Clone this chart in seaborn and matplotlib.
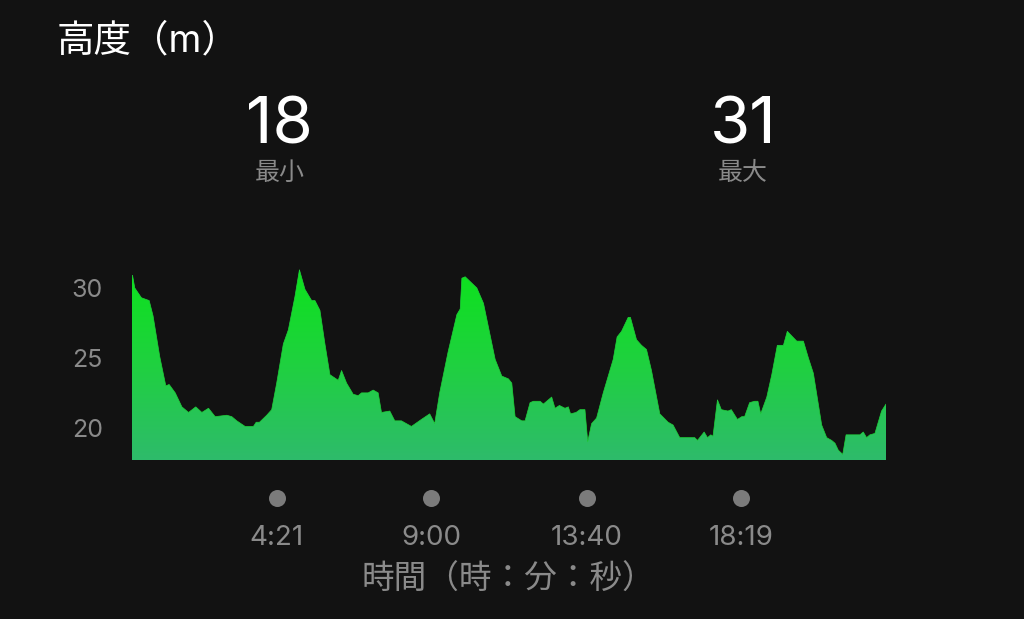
import numpy as np
import pandas as pd
import seaborn as sns
import matplotlib.pyplot as plt
import matplotlib.transforms as mtransforms
from matplotlib.colors import LinearSegmentedColormap
from matplotlib.patches import PathPatch

# elevation profile (time in seconds, height in m)
t_sec = [0, 1, 5, 17, 31, 38, 50, 61, 67, 78, 90, 102, 115, 126, 138, 150, 171, 180,
         189, 204, 219, 224, 230, 243, 252, 261, 273, 282, 294, 302, 312, 324, 330,
         339, 348, 357, 372, 378, 387, 399, 408, 414, 426, 435, 444, 450, 465, 474,
         486, 504, 522, 537, 546, 555, 570, 586, 592, 595, 601, 622, 634, 655, 667,
         679, 685, 691, 703, 709, 718, 724, 736, 742, 757, 763, 771, 781, 787, 791,
         801, 808, 817, 822, 829, 838, 850, 868, 875, 883, 895, 899, 910, 919, 928,
         937, 952, 967, 976, 988, 1015, 1020, 1032, 1038, 1044, 1048, 1056, 1063,
         1075, 1081, 1092, 1100, 1105, 1114, 1123, 1129, 1134, 1145, 1154, 1164,
         1175, 1182, 1199, 1211, 1220, 1229, 1244, 1253, 1262, 1268, 1274, 1282,
         1288, 1313, 1319, 1325, 1331, 1340, 1352, 1360]
height_m = [30.9, 30.9, 30.0, 29.3, 29.1, 28.0, 25.1, 23.0, 23.1, 22.5, 21.5, 21.1,
            21.5, 21.1, 21.4, 20.8, 20.9, 20.8, 20.5, 20.1, 20.1, 20.4, 20.4, 20.9,
            21.3, 23.2, 26.0, 27.0, 29.4, 31.3, 29.9, 29.1, 29.1, 28.4, 26.0, 23.8,
            23.4, 24.1, 23.2, 22.4, 22.3, 22.5, 22.5, 22.7, 22.5, 21.1, 21.2, 20.5,
            20.5, 20.1, 20.6, 21.0, 20.3, 22.5, 25.4, 28.1, 28.5, 30.7, 30.8, 30.0,
            28.9, 24.9, 23.7, 23.5, 23.2, 20.8, 20.5, 20.5, 21.8, 21.9, 21.9, 21.7,
            22.2, 21.4, 21.6, 21.4, 21.5, 21.0, 21.1, 21.3, 21.3, 19.0, 20.3, 20.7,
            22.5, 24.9, 26.5, 26.9, 27.9, 27.9, 26.3, 25.9, 25.6, 24.1, 21.0, 20.4,
            20.2, 19.3, 19.3, 19.1, 19.7, 19.3, 19.5, 19.4, 22.0, 21.3, 21.2, 21.3,
            20.6, 20.8, 20.8, 21.8, 21.9, 21.9, 21.0, 22.2, 23.8, 25.9, 25.9, 26.9,
            26.2, 26.2, 25.0, 23.9, 20.2, 19.3, 19.1, 18.9, 18.4, 18.1, 19.5, 19.5,
            19.7, 19.3, 19.5, 19.6, 21.2, 21.7]

tick_sec = [261, 540, 820, 1099]
tick_labels = ["4:21", "9:00", "13:40", "18:19"]
y_ticks = [20, 25, 30]

title = "高度（m）"
min_val, max_val = "18", "31"
min_label, max_label = "最小", "最大"
x_title = "時間（時：分：秒）"

df = pd.DataFrame({"t": t_sec, "h": height_m})

bg = "#121212"
grey = "#8a8a8a"

sns.set_theme(style="dark")
plt.rcParams["font.family"] = ["Inter", "Noto Sans CJK JP", "DejaVu Sans"]

fig = plt.figure(figsize=(10.24, 6.19), dpi=100, facecolor=bg)
ax = fig.add_axes([132 / 1024, 159 / 619, 754 / 1024, 193 / 619])
ax.set_facecolor(bg)

ymin, ymax = 17.7, 31.5
xmax = t_sec[-1]

# gradient fill under the profile, clipped to the area shape
poly = ax.fill_between(df["t"], df["h"], ymin, facecolor="none", edgecolor="none")
cmap = LinearSegmentedColormap.from_list("elev", ["#2ebb6b", "#1fd13f", "#0ce31b"])
grad = np.linspace(0, 1, 256).reshape(-1, 1)
im = ax.imshow(grad, extent=[0, xmax, ymin, ymax], origin="lower", aspect="auto",
               cmap=cmap, zorder=2)
clip = PathPatch(poly.get_paths()[0], transform=ax.transData, facecolor="none",
                 edgecolor="none")
ax.add_patch(clip)
im.set_clip_path(clip)

sns.lineplot(data=df, x="t", y="h", ax=ax, color="#1fd23a", linewidth=0.5, zorder=3)

ax.set_xlim(0, xmax)
ax.set_ylim(ymin, ymax)
for s in ax.spines.values():
    s.set_visible(False)
ax.grid(False)

ax.set_yticks(y_ticks)
ax.set_yticklabels([str(v) for v in y_ticks])
ax.set_xticks(tick_sec)
ax.set_xticklabels(tick_labels)
ax.tick_params(axis="y", length=0, pad=21, labelsize=18, labelcolor=grey)
ax.tick_params(axis="x", length=0, pad=47, labelsize=20, labelcolor=grey)

# grey dots above the time labels
trans = mtransforms.blended_transform_factory(ax.transData, ax.transAxes)
ax.scatter(tick_sec, [-38 / 193] * len(tick_sec), s=150, color="#7b7b7b",
           transform=trans, clip_on=False, zorder=4, linewidths=0)

ax.set_xlabel(x_title, fontsize=23.5, color=grey, va="center")
ax.xaxis.set_label_coords((508 - 132) / 754, -120 / 193)
ax.set_ylabel("")

fig.text(57 / 1024, 1 - 41 / 619, title, fontsize=27, color="white", va="center",
         ha="left")
fig.text(279 / 1024, 1 - 143 / 619, min_val, fontsize=47, color="white",
         ha="center", va="baseline")
fig.text(743 / 1024, 1 - 143 / 619, max_val, fontsize=47, color="white",
         ha="center", va="baseline")
fig.text(280 / 1024, 1 - 173 / 619, min_label, fontsize=18, color=grey,
         ha="center", va="center")
fig.text(743 / 1024, 1 - 173 / 619, max_label, fontsize=18, color=grey,
         ha="center", va="center")

fig.savefig("out.png", dpi=100, facecolor=bg)
